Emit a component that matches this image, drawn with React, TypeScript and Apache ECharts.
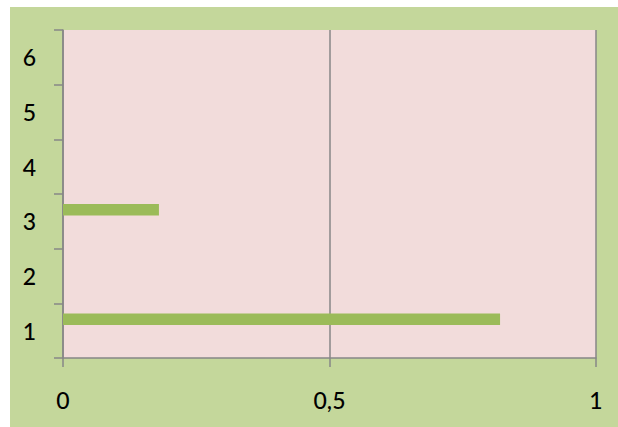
import React, { useEffect, useRef } from "react";
import * as echarts from "echarts";

const categories = ["1", "2", "3", "4", "5", "6"];
const seriesMain = [0.82, null, 0.18, null, null, null];
const seriesEmptyA = [null, null, null, null, null, null];
const seriesEmptyB = [null, null, null, null, null, null];
const xTicks = { min: 0, max: 1, interval: 0.5 };

export default function App() {
  const ref = useRef<HTMLDivElement>(null);
  useEffect(() => {
    const chart = echarts.init(ref.current!, null, { renderer: "svg" });
    const axisColor = "#878787";
    const font = "Lato, 'Liberation Sans', sans-serif";
    chart.setOption({
      animation: false,
      backgroundColor: "#c4d79b",
      grid: {
        left: 53,
        top: 23,
        right: 22,
        bottom: 69,
        show: true,
        backgroundColor: "#f2dcdb",
        borderWidth: 0,
      },
      xAxis: {
        type: "value",
        min: xTicks.min,
        max: xTicks.max,
        interval: xTicks.interval,
        axisLine: { show: true, lineStyle: { color: axisColor, width: 1.5 } },
        axisTick: { show: true, length: 9, lineStyle: { color: axisColor, width: 1.5 } },
        splitLine: { show: true, lineStyle: { color: axisColor, width: 1.5 } },
        axisLabel: {
          margin: 30,
          fontSize: 23,
          fontWeight: 500,
          color: "#000",
          fontFamily: font,
          formatter: (v: number) => String(v).replace(".", ","),
        },
      },
      yAxis: {
        type: "category",
        data: categories,
        axisLine: { show: true, lineStyle: { color: axisColor, width: 1.5 } },
        axisTick: { show: true, length: 9, lineStyle: { color: axisColor, width: 1.5 } },
        splitLine: { show: false },
        axisLabel: {
          margin: 27,
          fontSize: 23,
          fontWeight: 500,
          color: "#000",
          fontFamily: font,
        },
      },
      series: [
        {
          type: "bar",
          data: seriesMain,
          itemStyle: { color: "#9bbb59" },
          barGap: "0%",
          barCategoryGap: "37%",
        },
        { type: "bar", data: seriesEmptyA, itemStyle: { color: "#4f81bd" } },
        { type: "bar", data: seriesEmptyB, itemStyle: { color: "#c0504d" } },
      ],
    });
    return () => chart.dispose();
  }, []);
  return (
    <div
      ref={ref}
      style={{ position: "fixed", left: 10, top: 7, width: 608, height: 420 }}
    />
  );
}
